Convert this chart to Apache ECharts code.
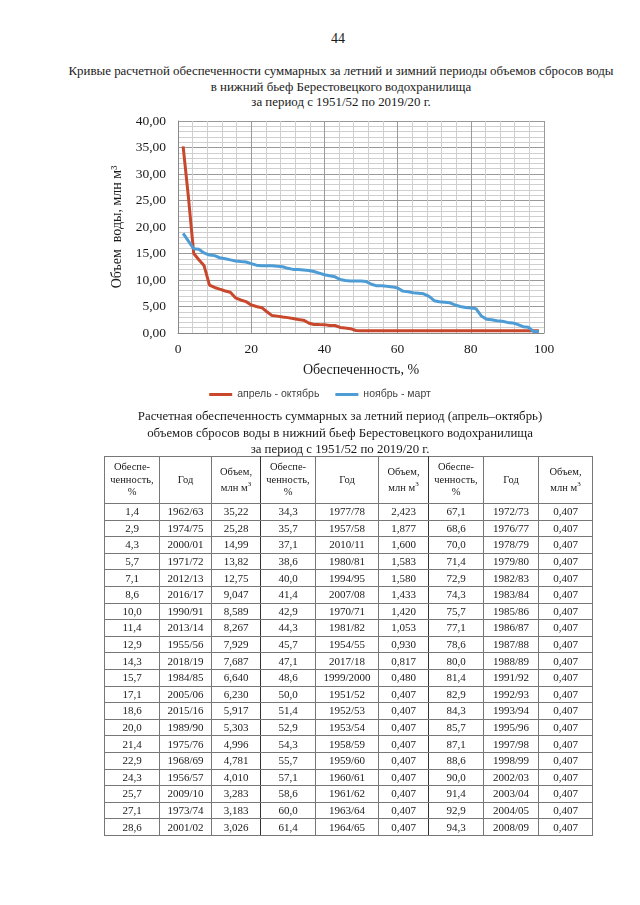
<!DOCTYPE html>
<html><head><meta charset="utf-8">
<script src="https://cdn.jsdelivr.net/npm/echarts@6/dist/echarts.min.js"></script>
<style>
html,body{margin:0;padding:0;background:#fff;}
body{width:640px;height:905px;position:relative;overflow:hidden;font-family:"Liberation Serif","DejaVu Serif",serif;color:#1a1a1a;}
.pn{position:absolute;top:31px;left:0;width:676px;text-align:center;font-size:14px;}
.t1{position:absolute;top:64px;left:0;width:682px;text-align:center;font-size:12.9px;line-height:15.6px;}
.t2{position:absolute;top:408px;left:0;width:680px;text-align:center;font-size:12.85px;line-height:16.6px;}
#chart{position:absolute;left:0;top:0;width:640px;height:410px;}
table{position:absolute;left:104px;top:456px;border-collapse:collapse;table-layout:fixed;font-size:11px;border:1.6px solid #333;}
td,th{border:1px solid #777;text-align:center;padding:0;font-weight:normal;}
th{height:46px;font-size:10.5px;line-height:12.5px;}
td{height:15.6px;line-height:15px;}
.g{border-right:1.6px solid #333;}
</style></head><body>
<div class="pn">44</div>
<div class="t1">Кривые расчетной обеспеченности суммарных за летний и зимний периоды объемов сбросов воды<br>в нижний бьеф Берестовецкого водохранилища<br>за период с 1951/52 по 2019/20 г.</div>
<div id="chart"></div>
<div class="t2">Расчетная обеспеченность суммарных за летний период (апрель–октябрь)<br>объемов сбросов воды в нижний бьеф Берестовецкого водохранилища<br>за период с 1951/52 по 2019/20 г.</div>
<table id="tbl"></table>
<script>
// Chart data
const provision = [1.4,2.9,4.3,5.7,7.1,8.6,10.0,11.4,12.9,14.3,15.7,17.1,18.6,20.0,21.4,22.9,24.3,25.7,27.1,28.6,
  30.0,31.4,32.9,34.3,35.7,37.1,38.6,40.0,41.4,42.9,44.3,45.7,47.1,48.6,50.0,51.4,52.9,54.3,55.7,57.1,
  58.6,60.0,61.4,62.9,64.3,65.7,67.1,68.6,70.0,71.4,72.9,74.3,75.7,77.1,78.6,80.0,81.4,82.9,84.3,85.7,
  87.1,88.6,90.0,91.4,92.9,94.3,95.7,97.1,98.6];
const summerVolume = [35.22,25.28,14.99,13.82,12.75,9.047,8.589,8.267,7.929,7.687,6.640,6.230,5.917,5.303,4.996,4.781,4.010,3.283,3.183,3.026,
  2.90,2.75,2.55,2.423,1.877,1.600,1.583,1.580,1.433,1.420,1.053,0.930,0.817,0.480,0.407,0.407,0.407,0.407,0.407,0.407,
  0.407,0.407,0.407,0.407,0.407,0.407,0.407,0.407,0.407,0.407,0.407,0.407,0.407,0.407,0.407,0.407,0.407,0.407,0.407,0.407,
  0.407,0.407,0.407,0.407,0.407,0.407,0.407,0.407,0.407];
const winterVolume = [18.8,17.3,15.9,15.8,15.1,14.7,14.6,14.2,14.0,13.8,13.6,13.5,13.4,13.1,12.8,12.7,12.7,12.7,12.6,12.5,
  12.2,12.0,12.0,11.9,11.8,11.6,11.3,11.0,10.8,10.6,10.1,9.9,9.8,9.8,9.8,9.7,9.2,8.9,8.9,8.8,
  8.7,8.5,7.9,7.8,7.6,7.5,7.4,6.9,6.1,5.9,5.8,5.7,5.3,5.0,4.8,4.7,4.6,3.2,2.6,2.5,
  2.3,2.2,2.0,1.9,1.6,1.2,1.1,0.3,0.3];
const seriesNames = ['апрель - октябрь','ноябрь - март'];

// Table data
const tablePct = ['1,4','2,9','4,3','5,7','7,1','8,6','10,0','11,4','12,9','14,3','15,7','17,1','18,6','20,0','21,4','22,9','24,3','25,7','27,1','28,6',
  '34,3','35,7','37,1','38,6','40,0','41,4','42,9','44,3','45,7','47,1','48,6','50,0','51,4','52,9','54,3','55,7','57,1','58,6','60,0','61,4',
  '67,1','68,6','70,0','71,4','72,9','74,3','75,7','77,1','78,6','80,0','81,4','82,9','84,3','85,7','87,1','88,6','90,0','91,4','92,9','94,3'];
const tableYear = ['1962/63','1974/75','2000/01','1971/72','2012/13','2016/17','1990/91','2013/14','1955/56','2018/19','1984/85','2005/06','2015/16','1989/90','1975/76','1968/69','1956/57','2009/10','1973/74','2001/02',
  '1977/78','1957/58','2010/11','1980/81','1994/95','2007/08','1970/71','1981/82','1954/55','2017/18','1999/2000','1951/52','1952/53','1953/54','1958/59','1959/60','1960/61','1961/62','1963/64','1964/65',
  '1972/73','1976/77','1978/79','1979/80','1982/83','1983/84','1985/86','1986/87','1987/88','1988/89','1991/92','1992/93','1993/94','1995/96','1997/98','1998/99','2002/03','2003/04','2004/05','2008/09'];
const tableVol = ['35,22','25,28','14,99','13,82','12,75','9,047','8,589','8,267','7,929','7,687','6,640','6,230','5,917','5,303','4,996','4,781','4,010','3,283','3,183','3,026',
  '2,423','1,877','1,600','1,583','1,580','1,433','1,420','1,053','0,930','0,817','0,480','0,407','0,407','0,407','0,407','0,407','0,407','0,407','0,407','0,407',
  '0,407','0,407','0,407','0,407','0,407','0,407','0,407','0,407','0,407','0,407','0,407','0,407','0,407','0,407','0,407','0,407','0,407','0,407','0,407','0,407'];
const colWidths = [55,52,49,55,63,50,55,55,54];

// build table
(function(){
  const tbl = document.getElementById('tbl');
  let h = '<colgroup>' + colWidths.map(w=>'<col style="width:'+w+'px">').join('') + '</colgroup>';
  const hdr = ['Обеспе-<br>ченность,<br>%','Год','Объем,<br>млн м<sup style="font-size:7px">3</sup>'];
  h += '<tr>';
  for (let g=0; g<3; g++) hdr.forEach((t,i)=>{ h += '<th'+(i===2&&g<2?' class="g"':'')+'>'+t+'</th>'; });
  h += '</tr>';
  for (let r=0; r<20; r++){
    h += '<tr>';
    for (let g=0; g<3; g++){
      const k = g*20 + r;
      h += '<td>'+tablePct[k]+'</td><td>'+tableYear[k]+'</td><td'+(g<2?' class="g"':'')+'>'+tableVol[k]+'</td>';
    }
    h += '</tr>';
  }
  tbl.innerHTML = h;
})();

const chart = echarts.init(document.getElementById('chart'));
const serif = 'Liberation Serif';
const mk = (ys) => provision.map((x,i)=>[x, ys[i]]);
chart.setOption({
  animation:false,
  grid:{left:178, top:121, width:366, height:212, containLabel:false},
  legend:{
    top:384, left:'center', icon:'rect', itemWidth:23, itemHeight:3, itemGap:16,
    textStyle:{fontFamily:'Liberation Sans', fontSize:10.5, color:'#444'},
    data:seriesNames
  },
  xAxis:{
    type:'value', min:0, max:100, interval:20,
    name:'Обеспеченность, %', nameLocation:'middle', nameGap:30,
    nameTextStyle:{fontFamily:serif, fontSize:14, color:'#1a1a1a'},
    axisLine:{show:true, lineStyle:{color:'#888'}},
    axisTick:{show:false},
    axisLabel:{fontFamily:serif, fontSize:13.5, color:'#1a1a1a', margin:9},
    splitLine:{show:true, lineStyle:{color:'#9a9a9a', width:1}},
    minorTick:{show:false, splitNumber:5},
    minorSplitLine:{show:true, lineStyle:{color:'#cfcfcf', width:1}}
  },
  yAxis:{
    type:'value', min:0, max:40, interval:5,
    name:'Объем  воды, млн м³', nameLocation:'middle', nameGap:44,
    nameTextStyle:{fontFamily:serif, fontSize:14, color:'#1a1a1a'},
    axisLine:{show:true, lineStyle:{color:'#888'}},
    axisTick:{show:false},
    axisLabel:{fontFamily:serif, fontSize:13.5, color:'#1a1a1a', margin:12,
      formatter:v=>v.toFixed(2).replace('.',',')},
    splitLine:{show:true, lineStyle:{color:'#9a9a9a', width:1}},
    minorTick:{show:false, splitNumber:5},
    minorSplitLine:{show:true, lineStyle:{color:'#cfcfcf', width:1}}
  },
  series:[
    {name:seriesNames[0], type:'line', data:mk(summerVolume), symbol:'none', lineStyle:{width:3, color:'#C9472C'}, itemStyle:{color:'#C9472C'}},
    {name:seriesNames[1], type:'line', data:mk(winterVolume), symbol:'none', lineStyle:{width:3, color:'#4E9CD6'}, itemStyle:{color:'#4E9CD6'}}
  ]
});
</script>
</body></html>
